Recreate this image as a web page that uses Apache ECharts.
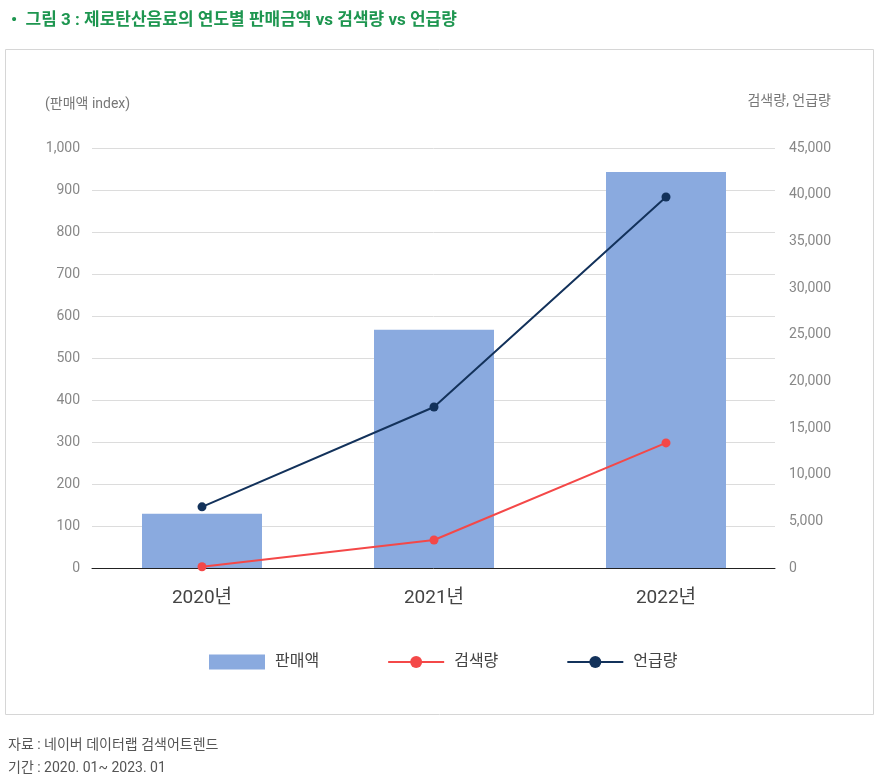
<!DOCTYPE html>
<html><head><meta charset="utf-8">
<script src="https://cdn.jsdelivr.net/npm/echarts@6/dist/echarts.min.js"></script>
<style>html,body{margin:0;padding:0;background:#fff}#c{width:879px;height:776px}</style>
</head><body><div id="c"></div>
<script>
const categories = ['2020년', '2021년', '2022년'];
const salesIndex = [129, 567, 943];
const searchVolume = [140, 3000, 13400];
const mentionVolume = [6550, 17250, 39750];
const leftTicks = [0, 100, 200, 300, 400, 500, 600, 700, 800, 900, 1000];
const rightTicks = [0, 5000, 10000, 15000, 20000, 25000, 30000, 35000, 40000, 45000];

const FONT = 'Roboto, "Noto Sans CJK KR", "Noto Sans", sans-serif';
const chart = echarts.init(document.getElementById('c'), null, {renderer: 'canvas'});
const fmt = v => v.toLocaleString('en-US');
const lMin = leftTicks[0], lMax = leftTicks[leftTicks.length - 1];
const rMin = rightTicks[0], rMax = rightTicks[rightTicks.length - 1];
chart.setOption({
  animation: false,
  textStyle: {fontFamily: FONT},
  title: [
    {text: '•  그림 3 : 제로탄산음료의 연도별 판매금액 vs 검색량 vs 언급량', left: 6, top: 7,
     textStyle: {fontFamily: FONT, fontSize: 17, fontWeight: 'bold', color: '#1e9650'}},
    {text: '자료 : 네이버 데이터랩 검색어트렌드', left: 3, top: 733,
     textStyle: {fontFamily: FONT, fontSize: 14, fontWeight: 'normal', color: '#555'}},
    {text: '기간 : 2020. 01~ 2023. 01', left: 3, top: 756,
     textStyle: {fontFamily: FONT, fontSize: 14, fontWeight: 'normal', color: '#555'}}
  ],
  graphic: [{type: 'rect', shape: {x: 5.5, y: 49.5, width: 868, height: 665}, style: {fill: 'none', stroke: '#d6d6d6', lineWidth: 1}, silent: true}],
  legend: {
    bottom: 101, left: 204, itemGap: 68, itemWidth: 56, itemHeight: 15,
    textStyle: {fontFamily: FONT, fontSize: 16, color: '#444', padding: [0, 0, 0, 5]},
    data: [{name: '판매액', icon: 'rect'}, '검색량', '언급량']
  },
  grid: [
    {left: 92, right: 104, top: 148, bottom: 208},
    {left: 86, right: 97, top: 148, bottom: 208}
  ],
  xAxis: [
    {type: 'category', data: categories, gridIndex: 0,
     axisLine: {lineStyle: {color: '#222', width: 1}}, axisTick: {show: false}, axisLabel: {show: false}, z: 5},
    {type: 'category', data: categories, gridIndex: 1,
     axisLine: {show: false}, axisTick: {show: false},
     axisLabel: {fontFamily: FONT, fontSize: 19, color: '#444', margin: 21}}
  ],
  yAxis: [
    {type: 'value', gridIndex: 0, min: lMin, max: lMax, interval: 100,
     name: '(판매액 index)', nameLocation: 'end', nameGap: 37,
     nameTextStyle: {fontFamily: FONT, fontSize: 14, color: '#777', align: 'left', padding: [0, 0, 0, -47]},
     axisLine: {show: false}, axisTick: {show: false},
     axisLabel: {fontFamily: FONT, fontSize: 14, color: '#888', margin: 12, formatter: fmt},
     splitLine: {lineStyle: {color: '#dcdcdc'}}},
    {type: 'value', gridIndex: 0, position: 'right', min: rMin, max: rMax, interval: 5000,
     name: '검색량, 언급량', nameLocation: 'end', nameGap: 40,
     nameTextStyle: {fontFamily: FONT, fontSize: 14, color: '#777', align: 'right', padding: [0, -56, 0, 0]},
     axisLine: {show: false}, axisTick: {show: false},
     axisLabel: {fontFamily: FONT, fontSize: 14, color: '#888', margin: 14, formatter: fmt},
     splitLine: {show: false}},
    {type: 'value', gridIndex: 1, min: lMin, max: lMax, show: false, splitLine: {show: false}},
    {type: 'value', gridIndex: 1, min: rMin, max: rMax, show: false, splitLine: {show: false}}
  ],
  series: [
    {name: '판매액', type: 'bar', data: salesIndex, barWidth: 120, itemStyle: {color: '#8aaadf'}, xAxisIndex: 1, yAxisIndex: 2},
    {name: '검색량', type: 'line', data: searchVolume, xAxisIndex: 1, yAxisIndex: 3, symbol: 'circle', symbolSize: 9,
     lineStyle: {color: '#f44848', width: 2}, itemStyle: {color: '#f44848'}, z: 6},
    {name: '언급량', type: 'line', data: mentionVolume, xAxisIndex: 1, yAxisIndex: 3, symbol: 'circle', symbolSize: 9,
     lineStyle: {color: '#13325b', width: 2}, itemStyle: {color: '#13325b'}, z: 6}
  ]
});
</script></body></html>
